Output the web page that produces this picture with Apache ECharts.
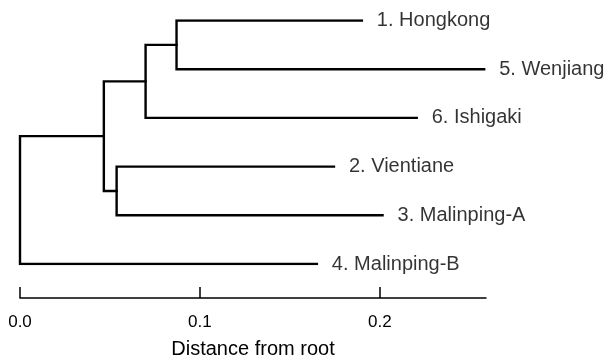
<!DOCTYPE html>
<html>
<head>
<meta charset="utf-8">
<script src="https://cdn.jsdelivr.net/npm/echarts@6/dist/echarts.min.js"></script>
<style>html,body{margin:0;padding:0;background:#fff}#c{width:607px;height:360px}</style>
</head>
<body>
<div id="c"></div>
<script>
// Leaves (top to bottom) and their distance from root
var leafNames = ['1. Hongkong', '5. Wenjiang', '6. Ishigaki', '2. Vientiane', '3. Malinping-A', '4. Malinping-B'];
var leafDist = [0.190, 0.258, 0.2205, 0.1745, 0.2015, 0.165];
// Internal nodes: distance from root and children (leaf index "L#" or node name)
var nodeNames = ['C', 'B', 'D', 'A', 'root'];
var nodeDist = [0.087, 0.0698, 0.0537, 0.0466, 0.0];
var nodeChildren = [['L0', 'L1'], ['C', 'L2'], ['L3', 'L4'], ['B', 'D'], ['A', 'L5']];
var tickValues = [0, 0.1, 0.2];
var axisMax = 0.259;

var pos = {};
leafNames.forEach(function (n, i) { pos['L' + i] = [leafDist[i], i]; });
var segs = [];
nodeNames.forEach(function (n, i) {
  var a = pos[nodeChildren[i][0]], b = pos[nodeChildren[i][1]];
  var x = nodeDist[i];
  pos[n] = [x, (a[1] + b[1]) / 2];
  segs.push({ coords: [[a[0], a[1]], [x, a[1]], [x, b[1]], [b[0], b[1]]] });
});

var chart = echarts.init(document.getElementById('c'), null, { renderer: 'canvas' });
var FONT = '"Liberation Sans", Arial, Helvetica, sans-serif';
chart.setOption({
  animation: false,
  grid: { left: 20, top: 20.5, width: 466, height: 243.5, containLabel: false, outerBoundsMode: 'none' },
  xAxis: {
    type: 'value', min: 0, max: axisMax, interval: 0.1,
    position: 'bottom', offset: 34,
    name: 'Distance from root', nameLocation: 'middle', nameGap: 41,
    nameTextStyle: { fontSize: 20, color: '#000', fontFamily: FONT },
    axisLine: { show: true, onZero: false, lineStyle: { color: '#000', width: 1.5 } },
    axisTick: { show: true, inside: true, length: 11, customValues: tickValues, lineStyle: { color: '#000', width: 1.5 } },
    axisLabel: { customValues: tickValues, margin: 16, fontSize: 17, color: '#000', fontFamily: FONT,
      formatter: function (v) { return v.toFixed(1); } },
    splitLine: { show: false }
  },
  yAxis: { type: 'value', min: 0, max: 5, inverse: true, show: false },
  series: [
    {
      type: 'lines', coordinateSystem: 'cartesian2d', polyline: true,
      lineStyle: { color: '#000', width: 2.4, opacity: 1, join: 'miter', cap: 'square' },
      data: segs, silent: true
    },
    {
      type: 'scatter', symbolSize: 0, silent: true,
      data: leafNames.map(function (n, i) { return { name: n, value: [leafDist[i], i] }; }),
      label: { show: true, position: 'right', distance: 15, formatter: '{b}', fontSize: 20, color: '#000', fontFamily: FONT }
    }
  ]
});
</script>
</body>
</html>
